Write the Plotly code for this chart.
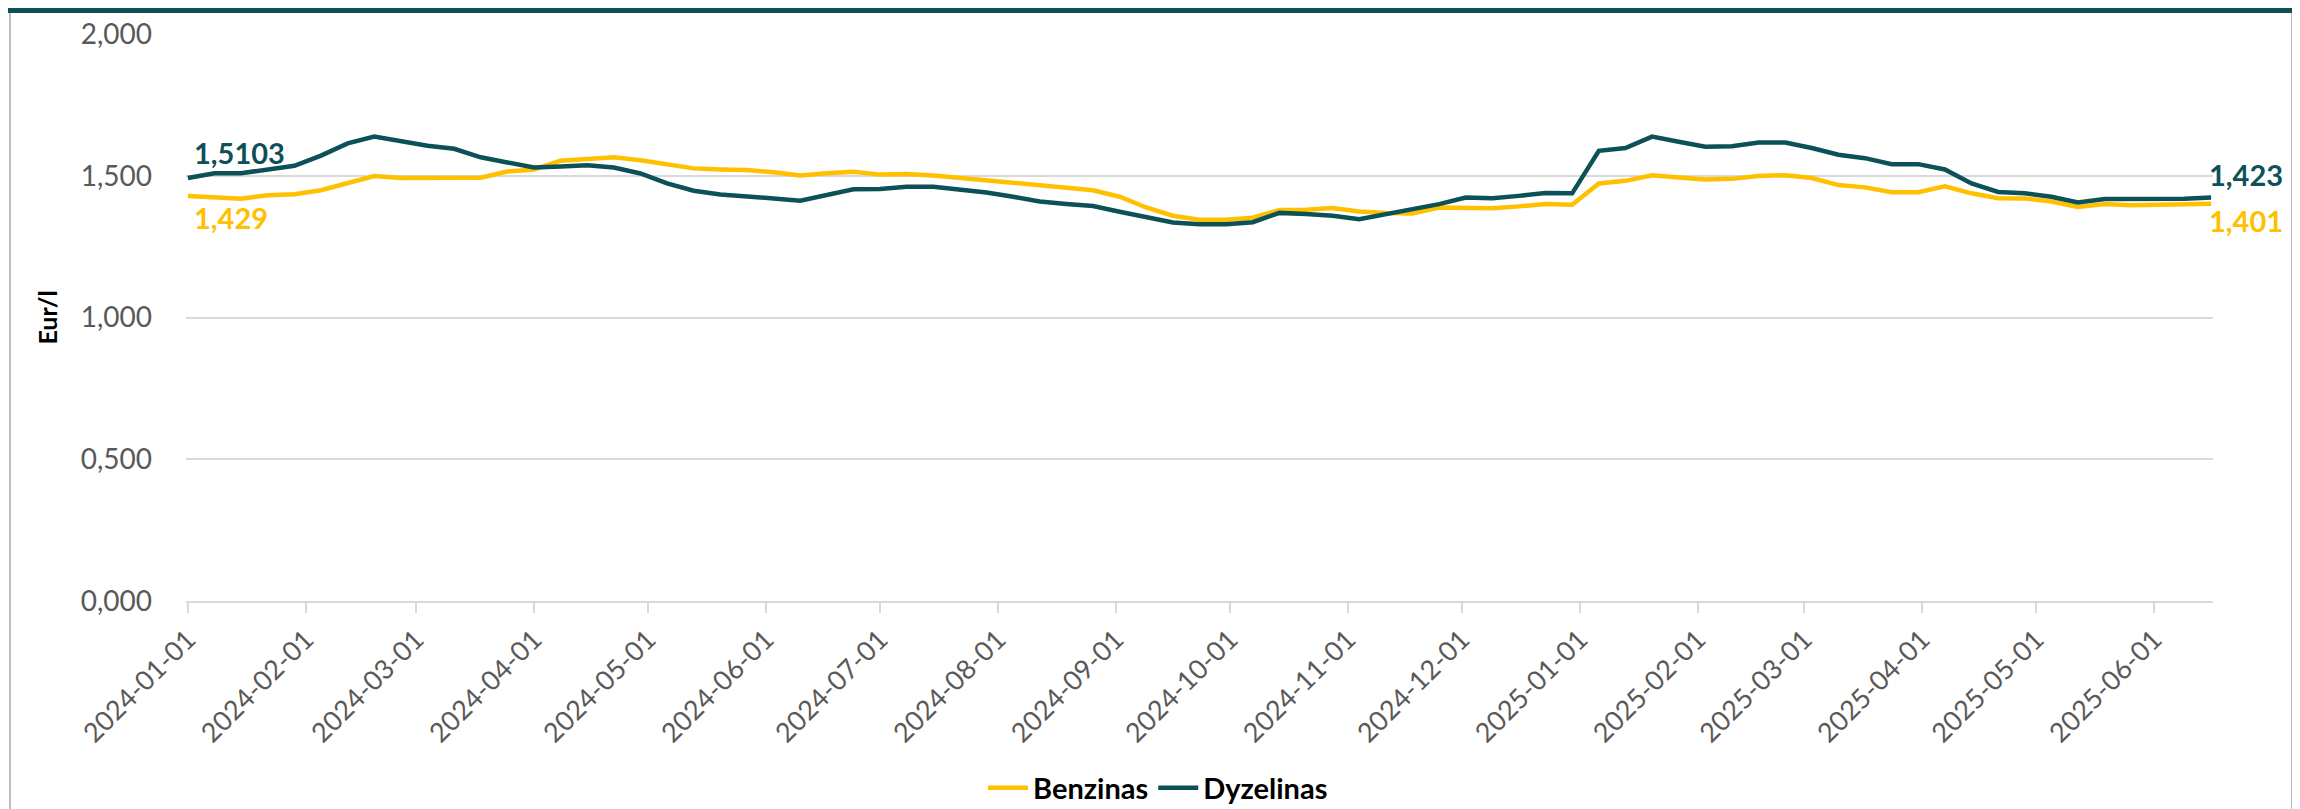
import pandas as pd
import plotly.graph_objects as go

# Savaitinės kainos (Eur/l), pirmadieniais nuo 2024-01-01
pradzia = "2024-01-01"
savaiciu_sk = 77
datos = pd.date_range(pradzia, periods=savaiciu_sk, freq="7D")

benzinas = [
    1.429, 1.423, 1.419, 1.431, 1.435, 1.449, 1.476, 1.499, 1.492, 1.493,
    1.495, 1.493, 1.515, 1.522, 1.553, 1.559, 1.565, 1.555, 1.541, 1.526,
    1.522, 1.520, 1.512, 1.501, 1.509, 1.514, 1.504, 1.506, 1.501, 1.492,
    1.484, 1.475, 1.467, 1.459, 1.449, 1.426, 1.388, 1.359, 1.345, 1.345,
    1.352, 1.379, 1.380, 1.386, 1.374, 1.369, 1.367, 1.388, 1.388, 1.385,
    1.392, 1.400, 1.398, 1.473, 1.482, 1.502, 1.494, 1.487, 1.489, 1.499,
    1.502, 1.492, 1.467, 1.459, 1.442, 1.442, 1.463, 1.438, 1.421, 1.420,
    1.409, 1.390, 1.400, 1.396, 1.398, 1.398, 1.401,
]
dyzelinas = [
    1.492, 1.509, 1.509, 1.522, 1.535, 1.571, 1.614, 1.638, 1.621, 1.606,
    1.595, 1.565, 1.547, 1.529, 1.533, 1.537, 1.529, 1.508, 1.473, 1.447,
    1.434, 1.428, 1.420, 1.412, 1.433, 1.452, 1.453, 1.461, 1.461, 1.452,
    1.441, 1.426, 1.409, 1.400, 1.393, 1.373, 1.353, 1.335, 1.329, 1.329,
    1.336, 1.369, 1.365, 1.359, 1.347, 1.365, 1.384, 1.400, 1.423, 1.421,
    1.429, 1.439, 1.438, 1.588, 1.598, 1.638, 1.620, 1.602, 1.604, 1.617,
    1.617, 1.598, 1.574, 1.562, 1.541, 1.541, 1.522, 1.473, 1.443, 1.438,
    1.426, 1.406, 1.418, 1.418, 1.421, 1.419, 1.423,
]

# Etiketės pradžioje ir pabaigoje (tekstas kaip originale)
etiketes_dyz = ["1,5103", "1,423"]
etiketes_benz = ["1,429", "1,401"]

menesiai = pd.date_range("2024-01-01", "2025-06-01", freq="MS")
y_ticks = [0, 0.5, 1.0, 1.5, 2.0]

GELTONA = "#FFC000"
TAMSI = "#0B5157"
PILKA = "#595959"
SRIFTAS = "Lato"

W, H = 2300, 809
ml, mr, mt, mb = 178, 95, 26, 216
pw, ph = W - ml - mr, H - mt - mb


def px_x(v):
    return (v - ml) / pw


def px_y(v):
    return 1 - (v - mt) / ph


fig = go.Figure()
fig.add_trace(go.Scatter(x=datos, y=benzinas, name="Benzinas", mode="lines",
                         line=dict(color=GELTONA, width=4.5)))
fig.add_trace(go.Scatter(x=datos, y=dyzelinas, name="Dyzelinas", mode="lines",
                         line=dict(color=TAMSI, width=4.5)))

# Reiksmiu etiketes
lbl_font = dict(family=SRIFTAS, size=29)
fig.add_annotation(x=datos[0], y=dyzelinas[0], text="<b>%s</b>" % etiketes_dyz[0],
                   showarrow=False, xanchor="left", yanchor="bottom", xshift=4, yshift=6,
                   font=dict(lbl_font, color=TAMSI))
fig.add_annotation(x=datos[0], y=benzinas[0], text="<b>%s</b>" % etiketes_benz[0],
                   showarrow=False, xanchor="left", yanchor="top", xshift=4, yshift=-2,
                   font=dict(lbl_font, color=GELTONA))
fig.add_annotation(x=datos[-1], y=dyzelinas[-1], text="<b>%s</b>" % etiketes_dyz[1],
                   showarrow=False, xanchor="left", yanchor="bottom", xshift=-4, yshift=4,
                   font=dict(lbl_font, color=TAMSI))
fig.add_annotation(x=datos[-1], y=benzinas[-1], text="<b>%s</b>" % etiketes_benz[1],
                   showarrow=False, xanchor="left", yanchor="top", xshift=-4, yshift=3,
                   font=dict(lbl_font, color=GELTONA))

# Remelis: tamsi juosta virsuje, pilkos sonines linijos
fig.add_shape(type="rect", xref="paper", yref="paper", layer="above",
              x0=px_x(0), x1=px_x(W), y0=px_y(5), y1=px_y(0),
              fillcolor=TAMSI, line=dict(width=0))
fig.add_shape(type="line", xref="paper", yref="paper",
              x0=px_x(2), x1=px_x(2), y0=px_y(5), y1=px_y(H),
              line=dict(color="#A6A6A6", width=1.5))
fig.add_shape(type="line", xref="paper", yref="paper",
              x0=px_x(2284), x1=px_x(2284), y0=px_y(5), y1=px_y(H),
              line=dict(color="#A6A6A6", width=1.5))

fig.update_layout(
    width=W, height=H,
    margin=dict(l=ml, r=mr, t=mt, b=mb, autoexpand=False),
    paper_bgcolor="white", plot_bgcolor="white",
    separators=",.",
    font=dict(family=SRIFTAS, color=PILKA),
    showlegend=True,
    legend=dict(orientation="h", xref="container", yref="paper",
                x=0.5, xanchor="center", y=px_y(780), yanchor="middle",
                font=dict(family=SRIFTAS, size=29, color="black", weight="bold"),
                itemwidth=40, tracegroupgap=0),
)
fig.update_xaxes(
    type="date", automargin=False,
    range=["2023-12-31 12:00", "2025-06-16 12:00"],
    tickvals=menesiai, tickformat="%Y-%m-%d", tickangle=-45,
    tickfont=dict(size=27, color=PILKA),
    showgrid=False, showline=True, linecolor="#D9D9D9", linewidth=2,
    ticks="outside", ticklen=10, tickwidth=2, tickcolor="#D9D9D9",
    zeroline=False,
)
fig.update_yaxes(
    range=[0, 2.0], tickvals=y_ticks, tickformat=".3f", automargin=False,
    tickfont=dict(size=28, color=PILKA), ticklabelstandoff=33,
    showgrid=True, gridcolor="#D9D9D9", gridwidth=1.5,
    zeroline=False, showline=False,
    title=dict(text="<b>Eur/l</b>", font=dict(size=25, color="black"), standoff=15),
)

fig.write_html("out.html")
